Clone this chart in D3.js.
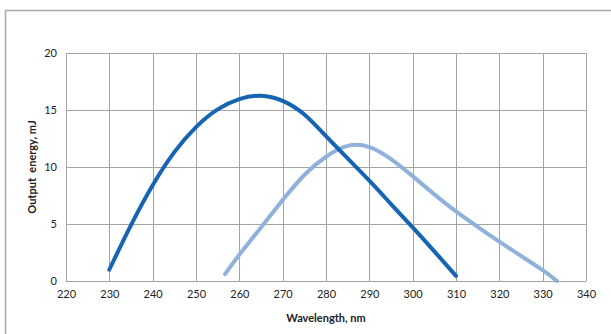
<!DOCTYPE html>
<html>
<head>
<meta charset="utf-8">
<script src="https://cdn.jsdelivr.net/npm/d3@7"></script>
<style>
  body { margin: 0; background: #fff; }
  svg text { font-family: Lato, "Open Sans", sans-serif; fill: #222; }
</style>
</head>
<body>
<svg id="chart" width="611" height="334"></svg>
<script>
// tick values
const xTicks = [220, 230, 240, 250, 260, 270, 280, 290, 300, 310, 320, 330, 340];
const yTicks = [0, 5, 10, 15, 20];

// dark series
const darkWl = [230, 235, 240, 245, 250, 255, 260, 265, 270, 275, 280, 285, 290, 295, 300, 305, 310];
const darkE  = [1.0, 4.9, 8.4, 11.3, 13.5, 15.05, 15.95, 16.25, 15.8, 14.6, 12.7, 10.75, 8.8, 6.75, 4.7, 2.6, 0.45];

// light series
const lightWl = [256.7, 260, 265, 270, 275, 280, 285, 290, 295, 300, 305, 310, 315, 320, 325, 330, 333.3];
const lightE  = [0.6, 2.3, 4.7, 7.1, 9.3, 10.9, 11.85, 11.75, 10.7, 9.2, 7.6, 6.1, 4.75, 3.45, 2.2, 0.95, 0];

const svg = d3.select('#chart');
const plotL = 66, plotR = 586, plotT = 53, plotB = 281;

const x = d3.scaleLinear().domain([220, 340]).range([plotL, plotR]);
const y = d3.scaleLinear().domain([0, 20]).range([plotB, plotT]);

// outer frame
svg.append('path')
    .attr('d', `M5.5,334 V10.5 H611`)
    .attr('fill', 'none')
    .attr('stroke', '#a8a8a8')
    .attr('stroke-width', 1.5);

// grid
const grid = svg.append('g').attr('stroke', '#a3a3a3').attr('stroke-width', 1);
grid.selectAll('line.v')
    .data(xTicks)
    .enter().append('line')
    .attr('x1', d => Math.round(x(d)) + 0.5)
    .attr('x2', d => Math.round(x(d)) + 0.5)
    .attr('y1', plotT).attr('y2', plotB);
grid.selectAll('line.h')
    .data(yTicks)
    .enter().append('line')
    .attr('y1', d => Math.round(y(d)) + 0.5)
    .attr('y2', d => Math.round(y(d)) + 0.5)
    .attr('x1', plotL).attr('x2', plotR);

// axes (labels only)
const xAxis = svg.append('g')
    .attr('transform', `translate(0,${plotB})`)
    .call(d3.axisBottom(x).tickValues(xTicks).tickSize(0).tickPadding(9));
const yAxis = svg.append('g')
    .attr('transform', `translate(${plotL},0)`)
    .call(d3.axisLeft(y).tickValues(yTicks).tickSize(0).tickPadding(9));
[xAxis, yAxis].forEach(a => {
    a.select('.domain').remove();
    a.selectAll('text').attr('font-size', 11).attr('font-family', 'Lato, sans-serif').attr('fill', '#222');
});

// curves
const line = d3.line()
    .x(d => x(d[0]))
    .y(d => y(d[1]))
    .curve(d3.curveNatural);

svg.append('path')
    .datum(d3.zip(lightWl, lightE))
    .attr('d', line)
    .attr('fill', 'none')
    .attr('stroke', '#8fb1da')
    .attr('stroke-width', 4)
    .attr('stroke-linecap', 'round');

svg.append('path')
    .datum(d3.zip(darkWl, darkE))
    .attr('d', line)
    .attr('fill', 'none')
    .attr('stroke', '#1565b2')
    .attr('stroke-width', 4)
    .attr('stroke-linecap', 'round');

// axis titles
svg.append('text')
    .attr('x', (plotL + plotR) / 2)
    .attr('y', 322)
    .attr('text-anchor', 'middle')
    .attr('font-size', 11)
    .attr('font-weight', 'bold')
    .text('Wavelength, nm');

svg.append('text')
    .attr('transform', `translate(36,${(plotT + plotB) / 2}) rotate(-90)`)
    .attr('text-anchor', 'middle')
    .attr('font-size', 11)
    .attr('font-weight', 'bold')
    .attr('xml:space', 'preserve')
    .style('white-space', 'pre')
    .text('Output  energy, mJ');
</script>
</body>
</html>
